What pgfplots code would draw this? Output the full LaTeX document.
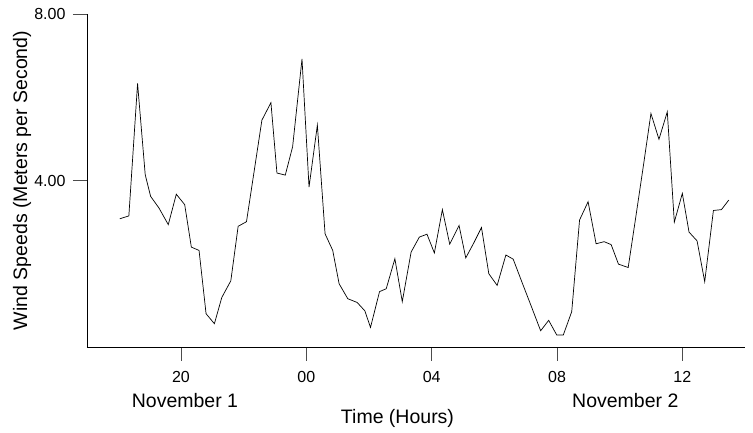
\documentclass[border=0pt]{standalone}
\usepackage{fontspec}
\setmainfont{Liberation Sans}
\usepackage{pgfplots}
\pgfplotsset{compat=1.18}
\begin{document}
\begin{tikzpicture}
\begin{axis}[
  scale only axis, width=658pt, height=333pt,
  at={(87pt,86pt)}, anchor=south west,
  xmin=17, xmax=38, ymin=0, ymax=8,
  axis x line*=bottom, axis y line*=left,
  axis line style={-, black, line width=0.8pt},
  xtick={20,24,28,32,36}, xticklabels={20,00,04,08,12},
  ytick={4,8}, yticklabels={4.00,8.00},
  tick align=outside, major tick length=14pt,
  tick style={black!70, line width=0.8pt},
  ticklabel style={font=\fontsize{16}{19}\selectfont},
  xticklabel style={yshift=-7pt},
  yticklabel style={xshift=-4pt},
  clip=false,
]
\addplot[black, line width=0.7pt] table {
x y
18.048 3.08
18.336 3.15
18.614 6.33
18.858 4.14
19.03 3.62
19.296 3.34
19.594 2.94
19.85 3.67
20.118 3.42
20.33 2.40
20.576 2.32
20.8 0.80
21.066 0.56
21.302 1.19
21.59 1.59
21.824 2.90
22.09 3.01
22.336 4.23
22.582 5.45
22.87 5.87
23.062 4.18
23.328 4.13
23.562 4.81
23.862 6.92
24.086 3.84
24.352 5.33
24.598 2.72
24.842 2.32
25.046 1.52
25.322 1.16
25.622 1.07
25.866 0.87
26.048 0.47
26.336 1.33
26.55 1.40
26.826 2.12
27.062 1.09
27.344 2.28
27.606 2.64
27.85 2.71
28.086 2.26
28.342 3.30
28.576 2.47
28.874 2.92
29.088 2.14
29.344 2.50
29.59 2.87
29.824 1.76
30.09 1.48
30.368 2.21
30.602 2.11
30.88 1.56
31.168 1.00
31.478 0.39
31.734 0.64
31.99 0.29
32.202 0.29
32.47 0.85
32.72 3.05
32.992 3.49
33.248 2.48
33.504 2.53
33.728 2.46
33.962 1.99
34.272 1.91
34.518 3.14
34.762 4.38
34.998 5.61
35.254 4.99
35.52 5.65
35.744 3.00
36.0 3.69
36.214 2.76
36.47 2.55
36.714 1.57
36.992 3.28
37.248 3.30
37.482 3.53
};
\end{axis}
\node[rotate=90, font=\fontsize{19.5}{23}\selectfont] at (22pt,252.5pt) {Wind Speeds (Meters per Second)};
\node[font=\fontsize{19.5}{23}\selectfont] at (397.5pt,14.6pt) {Time (Hours)};
\node[font=\fontsize{19.5}{23}\selectfont] at (185pt,32.8pt) {November 1};
\node[font=\fontsize{19.5}{23}\selectfont] at (625.3pt,32.8pt) {November 2};
\pgfresetboundingbox
\useasboundingbox (0,0) rectangle (753pt,433pt);
\end{tikzpicture}
\end{document}
